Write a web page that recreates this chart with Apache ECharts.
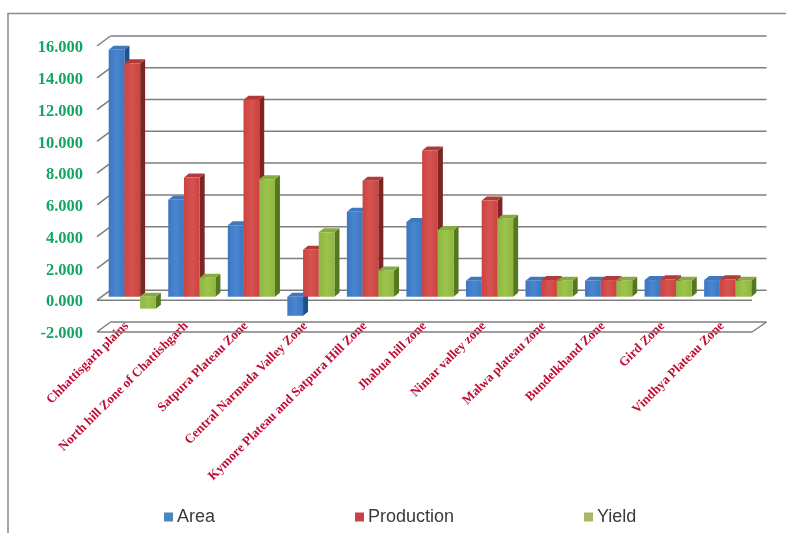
<!DOCTYPE html>
<html>
<head>
<meta charset="utf-8">
<style>html,body{margin:0;padding:0;background:#fff}#chart{width:786px;height:533px}</style>
<script src="https://cdn.jsdelivr.net/npm/echarts@6/dist/echarts.min.js"></script>
</head>
<body>
<div id="chart"></div>
<script>
const categories = [
  'Chhattisgarh plains', 'North hill Zone of Chattishgarh', 'Satpura Plateau Zone',
  'Central Narmada Valley Zone', 'Kymore Plateau and Satpura Hill Zone', 'Jhabua hill zone',
  'Nimar valley zone', 'Malwa plateau zone', 'Bundelkhand Zone', 'Gird Zone', 'Vindhya Plateau Zone'
];
const area = [15.55, 6.1, 4.5, -1.2, 5.35, 4.7, 1.0, 1.0, 1.0, 1.05, 1.05];
const production = [14.7, 7.5, 12.4, 2.95, 7.3, 9.2, 6.05, 1.05, 1.05, 1.1, 1.1];
const yieldValues = [-0.75, 1.2, 7.4, 4.05, 1.65, 4.2, 4.9, 1.0, 1.0, 1.0, 1.0];
const yTicks = [-2, 0, 2, 4, 6, 8, 10, 12, 14, 16];

// Faux-3D depth: back wall shift, bar plane shift and bar thickness, in pixels.
const WALL = { dx: 13.5, dy: -10 };
const PLANE = { dx: 5.5, dy: -3.5 };
const DEPTH = { dx: 5, dy: -4 };

const palette = {
  Area: { face: '#3c77c2', light: '#4a86d0', top: '#3f78bd', side: '#1f4f8c', legend: '#4a86b8' },
  Production: { face: '#cc4341', light: '#d65350', top: '#b23a38', side: '#7c2523', legend: '#c8404a' },
  Yield: { face: '#8fb740', light: '#9cc44c', top: '#86ab3e', side: '#55771f', legend: '#a4b868' }
};

// Draws one 3D column: front face, top cap and right side, all placed through the value axis.
function columnRenderer(name, slot) {
  const c = palette[name];
  return function (params, api) {
    const idx = api.value(0);
    const base = api.coord([idx, 0]);
    const tip = api.coord([idx, api.value(1)]);
    const band = api.size([1, 0])[0];
    const w = band * 0.264;
    const x0 = base[0] + PLANE.dx + (slot - 1.5) * w;
    const x1 = x0 + w;
    const yA = Math.min(base[1], tip[1]) + PLANE.dy;
    const yB = Math.max(base[1], tip[1]) + PLANE.dy;
    const d = DEPTH;
    return {
      type: 'group',
      children: [
        {
          type: 'polygon',
          shape: { points: [[x1, yA], [x1 + d.dx, yA + d.dy], [x1 + d.dx, yB + d.dy], [x1, yB]] },
          style: { fill: c.side }
        },
        {
          type: 'polygon',
          shape: { points: [[x0, yA], [x0 + d.dx, yA + d.dy], [x1 + d.dx, yA + d.dy], [x1, yA]] },
          style: { fill: c.top }
        },
        {
          type: 'rect',
          shape: { x: x0, y: yA, width: w, height: yB - yA },
          style: {
            fill: new echarts.graphic.LinearGradient(0, 0, 1, 0, [
              { offset: 0, color: c.face },
              { offset: 0.5, color: c.light },
              { offset: 1, color: c.face }
            ])
          }
        }
      ]
    };
  };
}

// Back-wall gridlines with their diagonal links down to the front axis.
function wallRenderer(params, api) {
  const v = api.value(0);
  const y = api.coord([0, v])[1];
  const left = params.coordSys.x;
  const right = left + params.coordSys.width;
  const line = { stroke: '#7e7e7e', lineWidth: 1.5 };
  const children = [
    { type: 'line', shape: { x1: left + WALL.dx, y1: y + WALL.dy, x2: right + WALL.dx + 1, y2: y + WALL.dy }, style: line },
    { type: 'line', shape: { x1: left, y1: y, x2: left + WALL.dx, y2: y + WALL.dy }, style: line }
  ];
  if (v === yTicks[0] || v === 0) {
    children.push({ type: 'line', shape: { x1: left, y1: y, x2: right, y2: y }, style: line });
  }
  if (v === yTicks[0]) {
    children.push({ type: 'line', shape: { x1: right, y1: y, x2: right + WALL.dx + 1, y2: y + WALL.dy }, style: line });
  }
  return { type: 'group', children: children };
}

function columnSeries(name, values, slot) {
  return {
    name: name,
    type: 'custom',
    coordinateSystem: 'cartesian2d',
    z: 3 + slot,
    renderItem: columnRenderer(name, slot),
    encode: { x: 0, y: 1 },
    itemStyle: { color: palette[name].legend },
    data: values.map((v, i) => [i, v])
  };
}

function legendEntry(name, left) {
  return {
    data: [name],
    left: left,
    top: 508,
    icon: 'rect',
    itemWidth: 9,
    itemHeight: 9,
    itemGap: 0,
    padding: 0,
    textStyle: { fontFamily: 'Liberation Sans', fontSize: 18, color: '#3a3a3a', padding: [1, 0, 0, -1] }
  };
}

const chart = echarts.init(document.getElementById('chart'), null, { renderer: 'canvas' });
chart.setOption({
  animation: false,
  backgroundColor: '#ffffff',
  grid: { left: 97, top: 46, width: 655, height: 286 },
  graphic: [
    // Outer chart frame: top and left edges only, the others run off the page.
    {
      type: 'polyline',
      z: 0,
      shape: { points: [[8, 533], [8, 13.5], [786, 13.5]] },
      style: { stroke: '#8a8a8a', lineWidth: 1.5, fill: null }
    }
  ],
  legend: [legendEntry('Area', 164), legendEntry('Production', 355), legendEntry('Yield', 584)],
  xAxis: {
    type: 'category',
    data: categories,
    axisLine: { show: false },
    axisTick: { show: false },
    splitLine: { show: false },
    axisLabel: {
      interval: 0,
      rotate: 45,
      margin: -8,
      color: '#c00d33',
      fontFamily: 'Liberation Serif',
      fontWeight: 'bold',
      fontSize: 13
    }
  },
  yAxis: {
    type: 'value',
    min: -2,
    max: 16,
    interval: 2,
    axisLine: { show: false },
    axisTick: { show: false },
    splitLine: { show: false },
    axisLabel: {
      margin: 14,
      color: '#12a564',
      fontFamily: 'Liberation Serif',
      fontWeight: 'bold',
      fontSize: 16.5,
      // Sits the numerals slightly below each tick.
      verticalAlign: 'top',
      lineHeight: 4,
      formatter: v => v.toFixed(3)
    }
  },
  series: [
    {
      name: 'Wall',
      type: 'custom',
      coordinateSystem: 'cartesian2d',
      z: 1,
      silent: true,
      renderItem: wallRenderer,
      encode: { y: 0 },
      data: yTicks.map(v => [v])
    },
    columnSeries('Area', area, 0),
    columnSeries('Production', production, 1),
    columnSeries('Yield', yieldValues, 2)
  ]
});
</script>
</body>
</html>
